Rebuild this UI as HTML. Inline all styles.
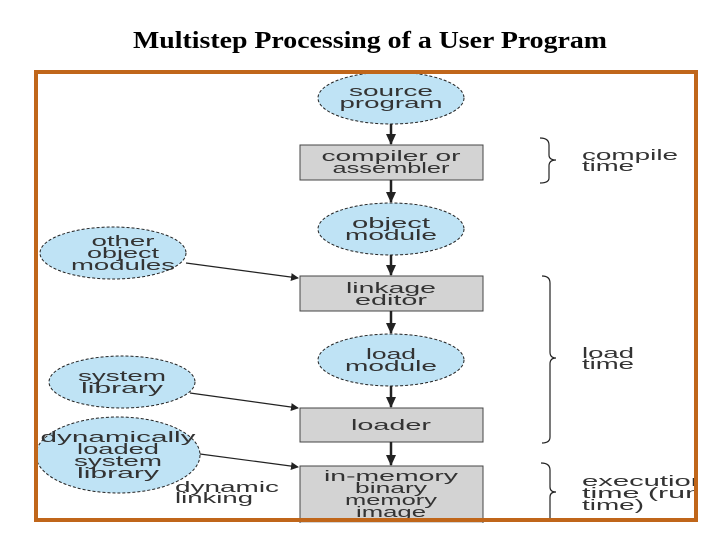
<!DOCTYPE html>
<html><head><meta charset="utf-8"><style>
html,body{margin:0;padding:0;background:#fff;width:720px;height:540px;overflow:hidden}
svg{display:block}
.t{font-family:"Liberation Sans",sans-serif;font-size:15px;fill:#333}
</style></head><body>
<svg width="720" height="540" viewBox="0 0 720 540">
<defs><marker id="a" markerWidth="8" markerHeight="8" refX="7" refY="4" orient="auto" markerUnits="userSpaceOnUse"><path d="M0,0 L8,4 L0,8z" fill="#222"/></marker>
<marker id="b" markerWidth="12" markerHeight="10" refX="10" refY="5" orient="auto" markerUnits="userSpaceOnUse"><path d="M0,0 L11,5 L0,10z" fill="#222"/></marker></defs>
<text x="370" y="48" text-anchor="middle" font-family="Liberation Serif,serif" font-weight="bold" font-size="24" textLength="474" lengthAdjust="spacingAndGlyphs" fill="#000">Multistep Processing of a User Program</text>
<g stroke="#222" stroke-dasharray="3,2" stroke-width="1" fill="#bfe3f5">
<ellipse cx="391" cy="98" rx="73" ry="26"/>
<ellipse cx="391" cy="229" rx="73" ry="26"/>
<ellipse cx="391" cy="360" rx="73" ry="26"/>
<ellipse cx="113" cy="253" rx="73" ry="26"/>
<ellipse cx="122" cy="382" rx="73" ry="26"/>
<ellipse cx="118" cy="455" rx="82" ry="38"/>
</g>
<g fill="#d3d3d3" stroke="#444" stroke-width="1">
<rect x="300" y="145" width="183" height="35"/>
<rect x="300" y="276" width="183" height="35"/>
<rect x="300" y="408" width="183" height="34"/>
<rect x="300" y="466" width="183" height="60"/>
</g>
<g stroke="#222" stroke-width="2.5">
<line x1="391" y1="124" x2="391" y2="144" marker-end="url(#b)"/>
<line x1="391" y1="180" x2="391" y2="202" marker-end="url(#b)"/>
<line x1="391" y1="255" x2="391" y2="275" marker-end="url(#b)"/>
<line x1="391" y1="311" x2="391" y2="333" marker-end="url(#b)"/>
<line x1="391" y1="386" x2="391" y2="407" marker-end="url(#b)"/>
<line x1="391" y1="442" x2="391" y2="465" marker-end="url(#b)"/>
</g>
<g stroke="#222" stroke-width="1.2">
<line x1="186" y1="263" x2="298" y2="278" marker-end="url(#a)"/>
<line x1="190" y1="393" x2="298" y2="408" marker-end="url(#a)"/>
<line x1="200" y1="454" x2="298" y2="467" marker-end="url(#a)"/>
</g>
<g fill="none" stroke="#222" stroke-width="1.2">
<path d="M540,138 Q549,138 549,145 L549,155 Q549,160 556,160 Q549,160 549,166 L549,178 Q549,183 540,183"/>
<path d="M542,276 Q550,276 550,283 L550,352 Q550,358 556,358 Q550,358 550,364 L550,437 Q550,443 542,443"/>
<path d="M541,463 Q550,463 550,470 L550,487 Q550,492 556,492 Q550,492 550,497 L550,522"/>
</g>
<g class="t" text-anchor="middle" lengthAdjust="spacingAndGlyphs">
<text x="391" y="96" textLength="84" lengthAdjust="spacingAndGlyphs">source</text><text x="391" y="108" textLength="103" lengthAdjust="spacingAndGlyphs">program</text>
<text x="391" y="161" textLength="139" lengthAdjust="spacingAndGlyphs">compiler or</text><text x="391" y="173" textLength="117" lengthAdjust="spacingAndGlyphs">assembler</text>
<text x="391" y="228" textLength="78" lengthAdjust="spacingAndGlyphs">object</text><text x="391" y="240" textLength="92" lengthAdjust="spacingAndGlyphs">module</text>
<text x="391" y="293" textLength="90" lengthAdjust="spacingAndGlyphs">linkage</text><text x="391" y="305" textLength="72" lengthAdjust="spacingAndGlyphs">editor</text>
<text x="391" y="359" textLength="50" lengthAdjust="spacingAndGlyphs">load</text><text x="391" y="371" textLength="92" lengthAdjust="spacingAndGlyphs">module</text>
<text x="391" y="430" textLength="80" lengthAdjust="spacingAndGlyphs">loader</text>
<text x="391" y="481" textLength="134" lengthAdjust="spacingAndGlyphs">in-memory</text><text x="391" y="493" textLength="72" lengthAdjust="spacingAndGlyphs">binary</text><text x="391" y="505" textLength="92" lengthAdjust="spacingAndGlyphs">memory</text><text x="391" y="517" textLength="70" lengthAdjust="spacingAndGlyphs">image</text>
<text x="123" y="246" textLength="63" lengthAdjust="spacingAndGlyphs">other</text><text x="123" y="258" textLength="72" lengthAdjust="spacingAndGlyphs">object</text><text x="123" y="270" textLength="104" lengthAdjust="spacingAndGlyphs">modules</text>
<text x="122" y="381" textLength="88" lengthAdjust="spacingAndGlyphs">system</text><text x="122" y="393" textLength="82" lengthAdjust="spacingAndGlyphs">library</text>
<text x="118" y="442" textLength="155" lengthAdjust="spacingAndGlyphs">dynamically</text><text x="118" y="454" textLength="82" lengthAdjust="spacingAndGlyphs">loaded</text><text x="118" y="466" textLength="88" lengthAdjust="spacingAndGlyphs">system</text><text x="118" y="478" textLength="82" lengthAdjust="spacingAndGlyphs">library</text>
</g>
<g class="t">
<text x="175" y="492" textLength="104" lengthAdjust="spacingAndGlyphs">dynamic</text><text x="175" y="503" textLength="78" lengthAdjust="spacingAndGlyphs">linking</text>
<text x="582" y="160" textLength="96" lengthAdjust="spacingAndGlyphs">compile</text><text x="582" y="171" textLength="52" lengthAdjust="spacingAndGlyphs">time</text>
<text x="582" y="358" textLength="52" lengthAdjust="spacingAndGlyphs">load</text><text x="582" y="369" textLength="52" lengthAdjust="spacingAndGlyphs">time</text>
<text x="582" y="486" textLength="125" lengthAdjust="spacingAndGlyphs">execution</text><text x="582" y="498" textLength="120" lengthAdjust="spacingAndGlyphs">time (run</text><text x="582" y="510" textLength="62" lengthAdjust="spacingAndGlyphs">time)</text>
</g>
<rect x="698" y="60" width="22" height="470" fill="#fff"/>
<rect x="36" y="72" width="660" height="448" fill="none" stroke="#c0661a" stroke-width="4"/>
<rect x="290" y="523" width="200" height="17" fill="#fff"/>
</svg>
</body></html>
